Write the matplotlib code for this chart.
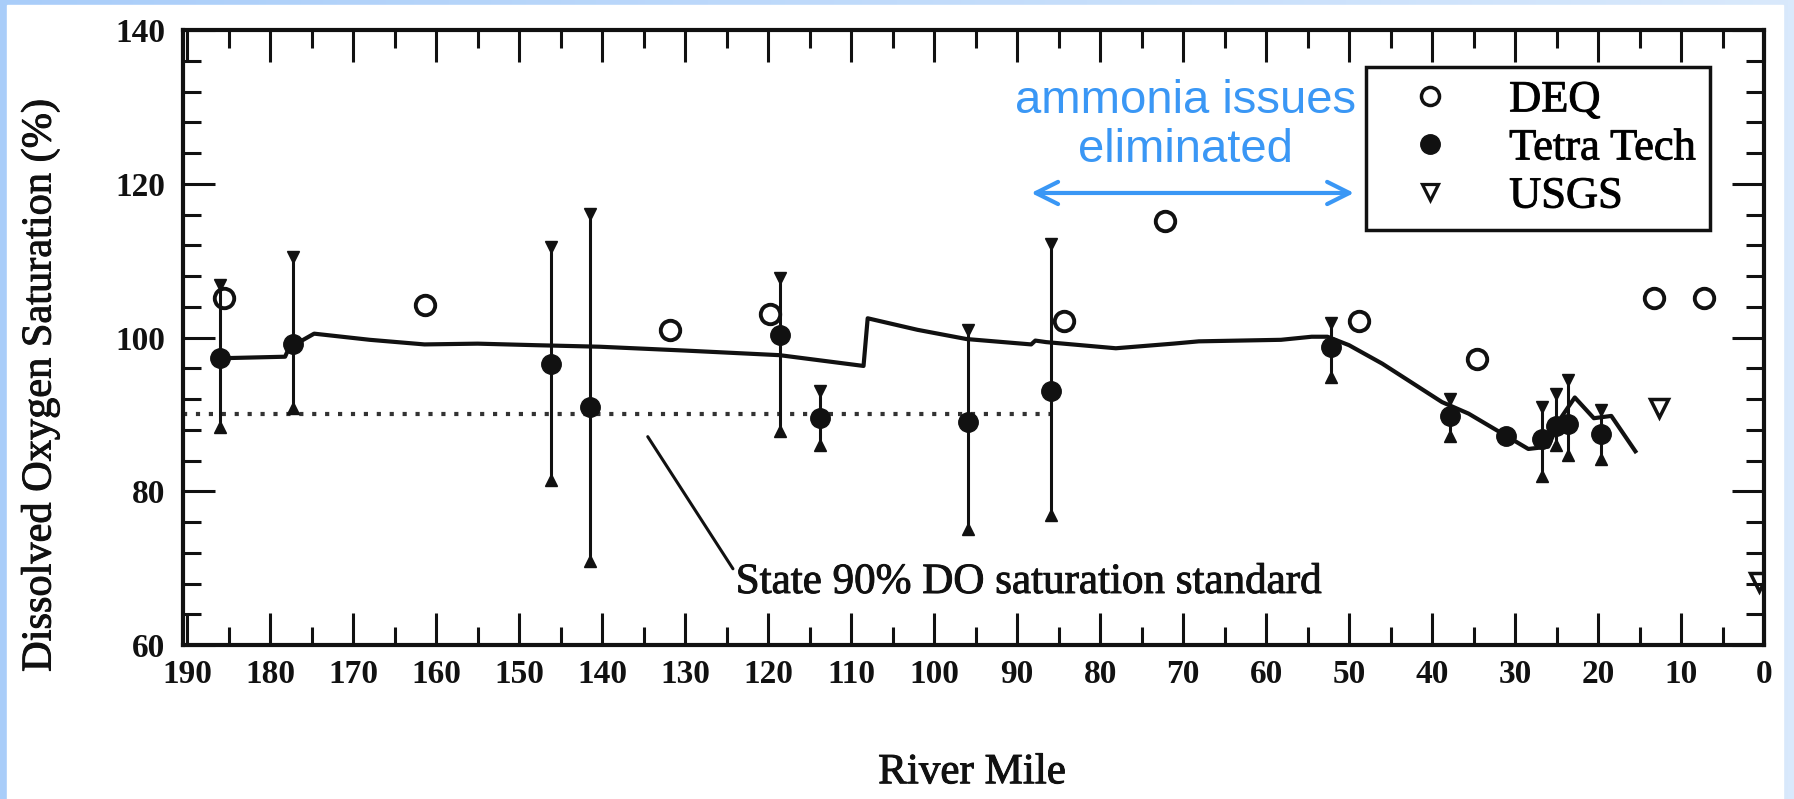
import matplotlib
matplotlib.use("Agg")
import matplotlib.pyplot as plt
import matplotlib.patheffects as pe
import numpy as np
from matplotlib.lines import Line2D
from matplotlib.patches import Rectangle
from matplotlib.colors import LinearSegmentedColormap
from matplotlib.ticker import MultipleLocator

# Points DEQ (cercles vides)
deq_mile = [185.5, 161.4, 131.8, 119.8, 84.3, 72.2, 48.8, 34.6, 13.3, 7.2]
deq_od = [105.1, 104.2, 101.0, 103.1, 102.2, 115.1, 102.2, 97.2, 105.2, 105.2]

# Points Tetra Tech (cercles pleins) avec leurs barres min / max
tt_mile = [186.0, 177.2, 146.2, 141.4, 118.6, 113.8, 95.9, 85.9, 52.2, 37.8, 31.1, 26.8, 25.1, 23.6, 19.6]
tt_od = [97.3, 99.2, 96.6, 91.0, 100.3, 89.5, 89.0, 93.1, 98.8, 89.8, 87.2, 86.8, 88.5, 88.7, 87.4]
tt_min = [88.3, 90.8, 81.4, 70.9, 87.9, 86.0, 75.1, 76.9, 94.9, 87.2, 87.2, 82.0, 86.0, 84.7, 84.2]
tt_max = [106.8, 110.5, 111.8, 116.1, 107.8, 93.1, 101.0, 112.1, 101.9, 92.0, 87.2, 91.0, 92.6, 94.5, 90.6]

# Points USGS (triangles vides)
usgs_mile = [12.7, 0.6]
usgs_od = [90.8, 68.2]

# Courbe du modele
modele_mile = [186.0, 178.2, 177.5, 176.5, 174.7, 168.0, 161.4, 155.0, 148.0, 140.3, 130.0, 118.6,
               108.5, 108.0, 102.0, 96.1, 88.3, 87.8, 86.5, 78.1, 71.2, 68.1, 58.2, 54.5, 52.6,
               50.0, 46.0, 38.8, 35.6, 32.0, 28.4, 26.0, 24.5, 22.8, 20.5, 18.4, 15.5]
modele_od = [97.3, 97.5, 99.2, 99.4, 100.5, 99.7, 99.1, 99.2, 99.0, 98.8, 98.3, 97.7,
             96.3, 102.5, 101.0, 99.8, 99.1, 99.6, 99.4, 98.6, 99.2, 99.5, 99.7, 100.1, 100.1,
             99.0, 96.6, 91.6, 90.1, 87.8, 85.5, 85.8, 89.5, 92.2, 89.5, 89.8, 85.2]

# Norme de l'Etat a 90 %
norme_mile = [190.5, 85.0]
norme_od = [90, 90]

x_ticks = list(range(190, -1, -10))
y_ticks = [60, 80, 100, 120, 140]

serif = "Liberation Serif"
bleu = "#3a97f5"
encre = "#111111"
epais = [pe.withStroke(linewidth=0.7, foreground=encre)]   # texte un peu plus gras, comme le scan

fig = plt.figure(figsize=(17.94, 7.99), dpi=100)

# fond bleu clair en degrade, puis la page blanche par dessus
fond = fig.add_axes([0, 0, 1, 1], zorder=-10)
degrade = np.linspace(0, 1, 256).reshape(1, -1)
cmap_fond = LinearSegmentedColormap.from_list("fond", ["#a9cdf9", "#d9e9fc"])
fond.imshow(degrade, aspect="auto", cmap=cmap_fond, extent=[0, 1, 0, 1])
fond.add_patch(Rectangle((7 / 1794, 0), (1783 - 7) / 1794, (799 - 5) / 799,
                         color="white", transform=fond.transAxes))
fond.set_xlim(0, 1)
fond.set_ylim(0, 1)
fond.set_axis_off()

ax = fig.add_axes([183 / 1794, 1 - 645 / 799, (1764 - 183) / 1794, 615 / 799])
ax.set_xlim(190.5, 0)
ax.set_ylim(60, 140)

ax.plot(norme_mile, norme_od, color="#333333", lw=3, linestyle=(0, (1, 2.1)), zorder=2)
ax.plot(modele_mile, modele_od, color=encre, lw=3, zorder=3)

# barres d'erreur avec des triangles pleins aux extremites
ax.vlines(tt_mile, tt_min, tt_max, color=encre, lw=2.2, zorder=3)
haut_x = [m for m, a, b in zip(tt_mile, tt_min, tt_max) if b > a]
haut_y = [b for m, a, b in zip(tt_mile, tt_min, tt_max) if b > a]
bas_y = [a for m, a, b in zip(tt_mile, tt_min, tt_max) if b > a]
ax.plot(haut_x, haut_y, "v", ms=8, color=encre, zorder=3)
ax.plot(haut_x, bas_y, "^", ms=8, color=encre, zorder=3)

ax.plot(tt_mile, tt_od, "o", ms=14, color=encre, zorder=4)
ax.plot(deq_mile, deq_od, "o", ms=14, mfc="none", mec=encre, mew=2.8, ls="none", zorder=4)
ax.plot(usgs_mile, usgs_od, "v", ms=13, mfc="none", mec=encre, mew=2.5, ls="none", zorder=4)

# graduations vers l'interieur sur les quatre cotes
ax.set_xticks(x_ticks)
ax.set_xticklabels([str(t) for t in x_ticks], fontfamily=serif, fontsize=24, fontweight="bold", color=encre)
ax.set_yticks(y_ticks)
ax.set_yticklabels([str(t) for t in y_ticks], fontfamily=serif, fontsize=24, fontweight="bold", color=encre)
ax.xaxis.set_minor_locator(MultipleLocator(5))
ax.yaxis.set_minor_locator(MultipleLocator(4))
ax.tick_params(which="both", direction="in", top=True, right=True, width=2.2, color=encre)
ax.tick_params(which="major", length=23)
ax.tick_params(which="minor", length=13)
ax.tick_params(axis="x", pad=10)
ax.tick_params(axis="y", pad=13)
for cote in ax.spines.values():
    cote.set_linewidth(3)
    cote.set_color(encre)

poignees = [
    Line2D([], [], ls="none", marker="o", ms=13, mfc="none", mec=encre, mew=2.5),
    Line2D([], [], ls="none", marker="o", ms=14, color=encre),
    Line2D([], [], ls="none", marker="v", ms=12, mfc="none", mec=encre, mew=2.3),
]
leg = ax.legend(poignees, ["DEQ", "Tetra Tech", "USGS"], loc="upper left",
                bbox_to_anchor=(0.748, 0.940), borderaxespad=0,
                prop={"family": serif, "size": 32}, frameon=True, fancybox=False,
                edgecolor=encre, framealpha=1, borderpad=0.3, labelspacing=0.18,
                handlelength=2.3, handletextpad=0.63)
leg.get_frame().set_linewidth(2.5)
for t in leg.get_texts():
    t.set_path_effects(epais)

# fleche et texte bleus ajoutes sur la figure
ax.annotate("", xy=(88.3, 118.8), xytext=(49.4, 118.8),
            arrowprops=dict(arrowstyle="<->", color=bleu, lw=3, mutation_scale=40,
                            shrinkA=0, shrinkB=0))
ax.text(69.7, 127.6, "ammonia issues\neliminated", ha="center", va="center", fontsize=34,
        color=bleu, family="Liberation Sans", linespacing=1.15)

ax.annotate("State 90% DO saturation standard", xy=(134.5, 87.1), xytext=(123.9, 68.1),
            ha="left", va="center", fontsize=31, family=serif, color=encre, path_effects=epais,
            arrowprops=dict(arrowstyle="-", lw=2.2, color=encre, shrinkA=0, shrinkB=0,
                            relpos=(0, 0.75)))

fig.text(40 / 1794, 1 - 385 / 799, "Dissolved Oxygen Saturation (%)", rotation=90,
         ha="center", va="center", fontsize=30.5, family=serif, color=encre, path_effects=epais)
fig.text(972 / 1794, 1 - 773 / 799, "River Mile", ha="center", va="center",
         fontsize=31, family=serif, color=encre, path_effects=epais)

fig.savefig("out.png", dpi=100)
